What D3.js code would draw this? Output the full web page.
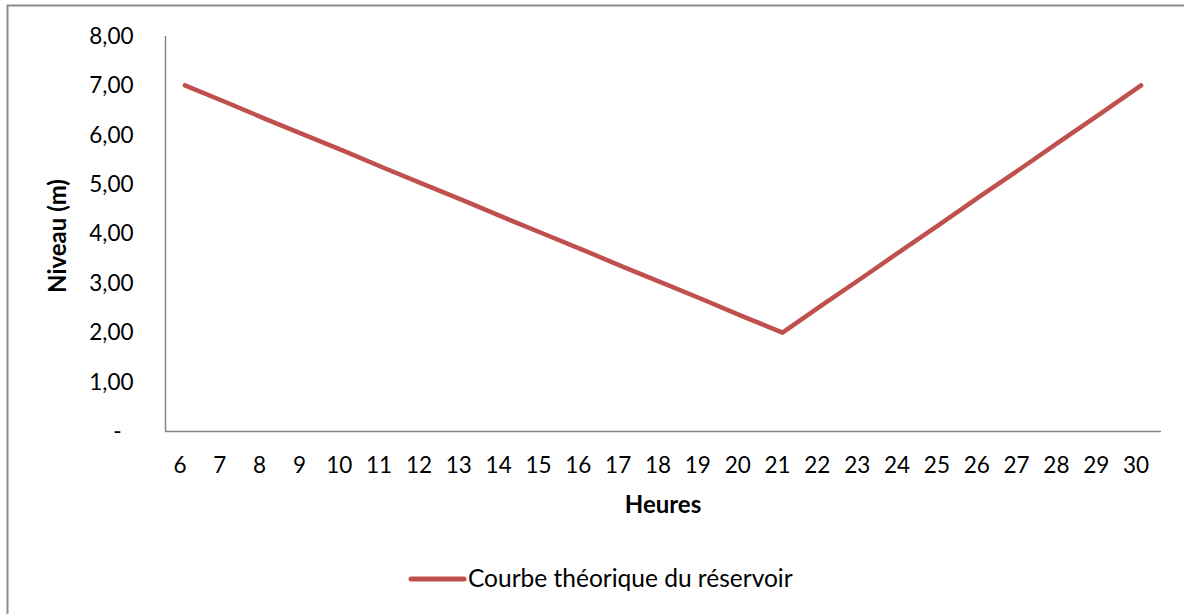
<!DOCTYPE html>
<html><head><meta charset="utf-8">
<script src="https://cdn.jsdelivr.net/npm/d3@7"></script>
<style>
html,body{margin:0;padding:0;background:#fff;}
svg{display:block;font-family:Lato,"Open Sans",sans-serif;}
</style></head>
<body>
<svg id="c" width="1184" height="614"></svg>
<script>
const hours = [6,7,8,9,10,11,12,13,14,15,16,17,18,19,20,21,22,23,24,25,26,27,28,29,30];
const niveau = [7.00,6.67,6.33,6.00,5.67,5.33,5.00,4.67,4.33,4.00,3.67,3.33,3.00,2.67,2.33,2.00,2.56,3.11,3.67,4.22,4.78,5.33,5.89,6.44,7.00];
const yTicks = [0,1,2,3,4,5,6,7,8];
const seriesName = "Courbe théorique du réservoir";
const xTitle = "Heures";
const yTitle = "Niveau (m)";

const svg = d3.select("#c");
const red = "#C0504D", axisCol = "#868686";

// outer border
svg.append("path").attr("d","M7.5,614 V5.5 H1184").attr("fill","none").attr("stroke","#8c8c8c").attr("stroke-width",2);

const x = d3.scaleBand().domain(hours).range([165,1161]).padding(0);
const y = d3.scaleLinear().domain([0,8]).range([431.5,36]);
const cx = h => x(h) + x.bandwidth()/2;

// y axis
const yAxis = d3.axisLeft(y).tickValues(yTicks).tickSize(0).tickPadding(32)
  .tickFormat(v => v === 0 ? "-" : d3.format(".2f")(v).replace(".", ","));
const gy = svg.append("g").attr("transform","translate(165.5,0)").call(yAxis);
gy.select(".domain").attr("stroke",axisCol).attr("stroke-width",1.5).attr("d","M0,36V431.5");
gy.selectAll("text").attr("font-size",22.5).attr("fill","#000").attr("font-family","Lato")
  .attr("dx", d => d === 0 ? -12 : 0);

// x axis
const xAxis = d3.axisBottom(x).tickSize(0).tickPadding(26);
const gx = svg.append("g").attr("transform","translate(0,431.5)").call(xAxis);
gx.select(".domain").attr("stroke",axisCol).attr("stroke-width",1.5).attr("d","M165,0H1161");
gx.selectAll("text").attr("font-size",22.5).attr("fill","#000").attr("font-family","Lato").attr("dx",-5);

// line
const line = d3.line().x((d,i)=>cx(hours[i])).y(d=>y(d));
svg.append("path").datum(niveau).attr("d",line).attr("fill","none").attr("stroke",red)
  .attr("stroke-width",4.5).attr("stroke-linejoin","round").attr("stroke-linecap","round");

// titles
svg.append("text").attr("x",663).attr("y",513).attr("text-anchor","middle")
  .attr("font-size",24).attr("font-weight","bold").text(xTitle);
svg.append("text").attr("transform","translate(57,236) rotate(-90)").attr("text-anchor","middle")
  .attr("dy","0.36em").attr("font-size",24).attr("font-weight","bold").text(yTitle);

// legend
svg.append("line").attr("x1",411).attr("x2",464).attr("y1",579).attr("y2",579)
  .attr("stroke",red).attr("stroke-width",5).attr("stroke-linecap","round");
svg.append("text").attr("x",468).attr("y",587).attr("font-size",24.5).text(seriesName);
</script>
</body></html>
